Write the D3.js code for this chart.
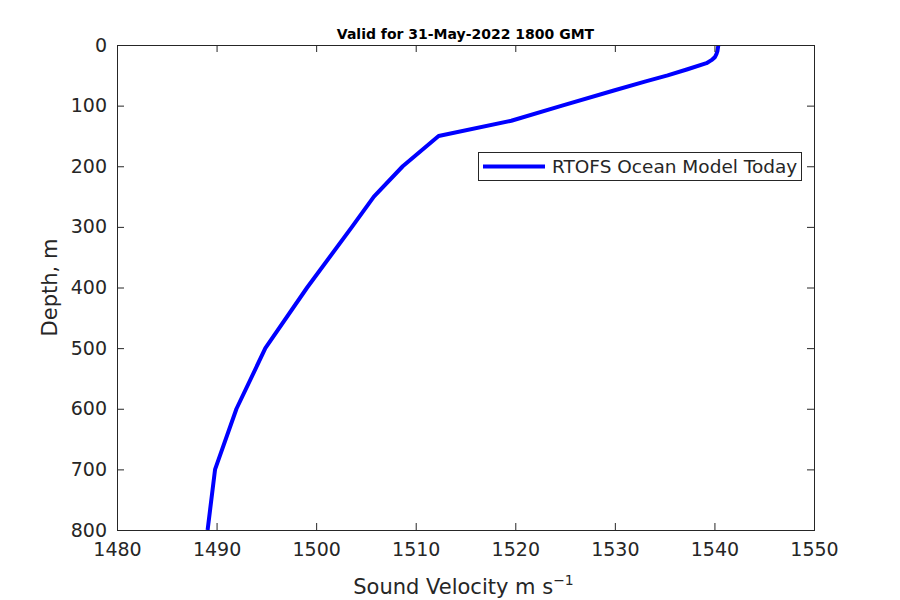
<!DOCTYPE html>
<html>
<head>
<meta charset="utf-8">
<script src="https://cdn.jsdelivr.net/npm/d3@7"></script>
<style>
  html, body { margin: 0; padding: 0; background: #fff; }
  svg { display: block; }
  text { font-family: "DejaVu Sans", sans-serif; fill: #262626; }
</style>
</head>
<body>
<svg id="chart" width="900" height="600"></svg>
<script>
// ---- data ----
const depths = [0, 5, 10, 15, 20, 25, 30, 40, 50, 60, 75, 100, 125, 150, 200, 250, 300, 400, 500, 600, 700, 800];
const soundVelocity = [1540.4, 1540.35, 1540.3, 1540.2, 1540.05, 1539.7, 1539.2, 1537.3, 1535.3, 1533.1, 1529.9, 1524.7, 1519.6, 1512.3, 1508.7, 1505.8, 1503.6, 1499.1, 1494.9, 1492.0, 1489.85, 1489.1];
const xTicks = [1480, 1490, 1500, 1510, 1520, 1530, 1540, 1550];
const yTicks = [0, 100, 200, 300, 400, 500, 600, 700, 800];
const seriesName = "RTOFS Ocean Model Today";
const titleText = "Valid for 31-May-2022 1800 GMT";

// ---- layout ----
const svg = d3.select("#chart");
const pL = 117, pT = 45, pR = 814, pB = 530;
const axisColor = "#262626";

const x = d3.scaleLinear().domain([1480, 1550]).range([pL, pR]);
const y = d3.scaleLinear().domain([0, 800]).range([pT, pB]);

svg.append("rect").attr("x", pL).attr("y", pT)
  .attr("width", pR - pL).attr("height", pB - pT)
  .attr("fill", "#fff");

svg.append("clipPath").attr("id", "clip").append("rect")
  .attr("x", pL).attr("y", pT).attr("width", pR - pL).attr("height", pB - pT);

const pts = depths.map((d, i) => [soundVelocity[i], d]);
const line = d3.line().x(d => x(d[0])).y(d => y(d[1]));
svg.append("path").datum(pts)
  .attr("d", line)
  .attr("fill", "none")
  .attr("stroke", "#0000ff")
  .attr("stroke-width", 4)
  .attr("stroke-linejoin", "round")
  .attr("clip-path", "url(#clip)");

function styleAxis(g) {
  g.select(".domain").remove();
  g.selectAll("line").attr("stroke", axisColor).attr("stroke-width", 1);
  g.selectAll("text").style("font-size", "19px").attr("fill", axisColor);
}
const tickLen = 7;
svg.append("g").attr("transform", `translate(0,${pB})`)
  .call(d3.axisBottom(x).tickValues(xTicks).tickSize(-tickLen).tickPadding(13).tickFormat(d3.format("d")))
  .call(styleAxis);
svg.append("g").attr("transform", `translate(0,${pT})`)
  .call(d3.axisTop(x).tickValues(xTicks).tickSize(-tickLen).tickFormat(""))
  .call(styleAxis);
svg.append("g").attr("transform", `translate(${pL},0)`)
  .call(d3.axisLeft(y).tickValues(yTicks).tickSize(-tickLen).tickPadding(10).tickFormat(d3.format("d")))
  .call(styleAxis);
svg.append("g").attr("transform", `translate(${pR},0)`)
  .call(d3.axisRight(y).tickValues(yTicks).tickSize(-tickLen).tickFormat(""))
  .call(styleAxis);

svg.append("rect").attr("x", pL + 0.5).attr("y", pT + 0.5)
  .attr("width", pR - pL).attr("height", pB - pT)
  .attr("fill", "none").attr("stroke", axisColor).attr("stroke-width", 1);

svg.append("text").attr("x", (pL + pR) / 2).attr("y", 39)
  .attr("text-anchor", "middle").style("font-size", "14px").style("font-weight", "bold")
  .style("fill", "#000").text(titleText);

const xl = svg.append("text").attr("x", (pL + pR) / 2 - 2).attr("y", 594)
  .attr("text-anchor", "middle").style("font-size", "21px");
xl.append("tspan").text("Sound Velocity m s");
xl.append("tspan").attr("dy", -9).style("font-size", "14px").text("−1");

svg.append("text")
  .attr("transform", `translate(57,${(pT + pB) / 2}) rotate(-90)`)
  .attr("text-anchor", "middle").style("font-size", "21px").text("Depth, m");

const lg = svg.append("g");
lg.append("rect").attr("x", 478.5).attr("y", 152.5).attr("width", 323).attr("height", 28)
  .attr("fill", "#fff").attr("stroke", axisColor).attr("stroke-width", 1);
lg.append("line").attr("x1", 483).attr("x2", 545).attr("y1", 166.5).attr("y2", 166.5)
  .attr("stroke", "#0000ff").attr("stroke-width", 4);
lg.append("text").attr("x", 552).attr("y", 173).style("font-size", "18.5px").text(seriesName);
</script>
</body>
</html>
